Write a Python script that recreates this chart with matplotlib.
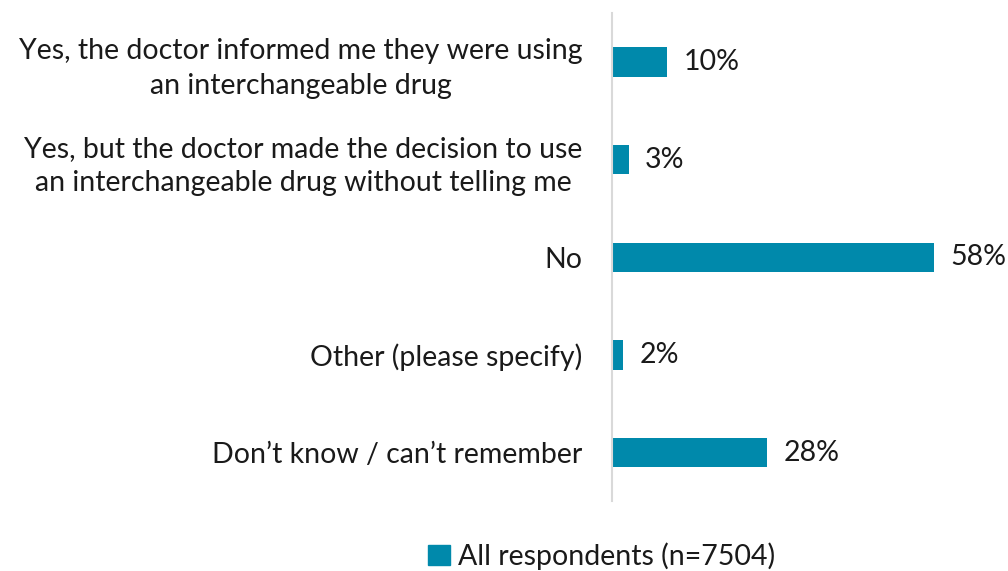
import matplotlib.pyplot as plt
from matplotlib.patches import Patch

# -------- Data --------
categories = [
    "Yes, the doctor informed me they were using\nan interchangeable drug",
    "Yes, but the doctor made the decision to use\nan interchangeable drug without telling me",
    "No",
    "Other (please specify)",
    "Don\u2019t know / can\u2019t remember",
]
values = [10, 3, 58, 2, 28]
series_name = "All respondents (n=7504)"

bar_color = "#0089AB"
text_color = "#1a1a1a"
plt.rcParams["font.family"] = ["Lato", "DejaVu Sans"]

fig = plt.figure(figsize=(10.08, 5.71), dpi=100)
ax = fig.add_axes([0.607, 0.122, 0.393, 0.855])

ypos = list(range(len(categories)))
ax.barh(ypos, values, height=0.3, color=bar_color)
ax.set_ylim(len(categories) - 0.5, -0.5)
ax.set_xlim(0, 71.4)

for y, v in zip(ypos, values):
    ax.text(v + 3, y, f"{v}%", va="center", ha="left", fontsize=20.5, color=text_color)

ax.set_yticks(ypos)
ax.set_yticklabels(categories, fontsize=20.5, color=text_color, linespacing=1.4,
                   multialignment="center")
ax.tick_params(axis="y", length=0, pad=21)
ax.set_xticks([])
for s in ["top", "right", "bottom"]:
    ax.spines[s].set_visible(False)
ax.spines["left"].set_color("#d9d9d9")
ax.spines["left"].set_linewidth(1.5)

fig.legend(handles=[Patch(color=bar_color, label=series_name)],
           loc="center", bbox_to_anchor=(0.597, 0.026), frameon=False,
           fontsize=20.5, handlelength=0.75, handleheight=0.75, handletextpad=0.3,
           labelcolor=text_color)

fig.savefig("out.png", dpi=100)
